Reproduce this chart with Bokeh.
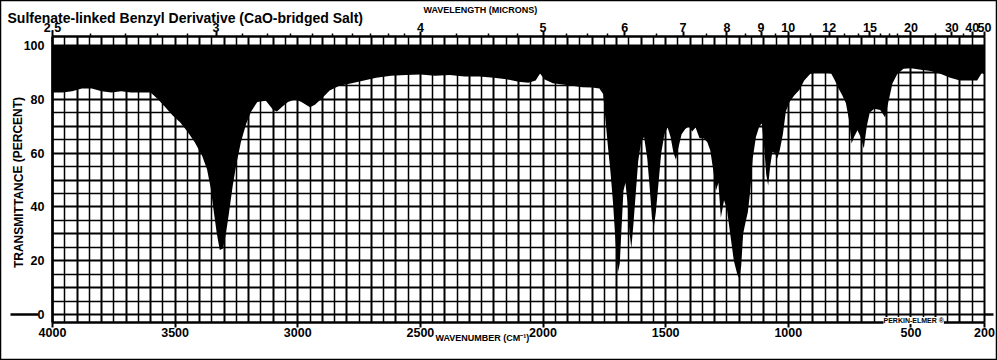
from bokeh.plotting import figure
from bokeh.models import Range1d, FixedTicker, LinearAxis, Label, BoxAnnotation
from bokeh.embed import file_html
from bokeh.resources import INLINE

# ---------------- data ----------------
title_text = "Sulfenate-linked Benzyl Derivative (CaO-bridged Salt)"
x_title = "WAVENUMBER (CM\u207b\u00b9)"
y_title = "TRANSMITTANCE (PERCENT)"
top_title = "WAVELENGTH (MICRONS)"

wavenumber = [
    4000, 3960, 3920, 3880, 3840, 3800, 3760, 3720, 3680, 3640, 3600, 3570, 3540, 3510,
    3480, 3450, 3420, 3390, 3370, 3355, 3342, 3330, 3318, 3305, 3293, 3280, 3265, 3250,
    3232, 3210, 3190, 3165, 3130, 3100, 3085, 3060, 3040, 3010, 2985, 2950, 2930, 2900,
    2870, 2830, 2780, 2730, 2680, 2620, 2560, 2500, 2440, 2380, 2320, 2260, 2200, 2150,
    2100, 2060, 2030, 2012, 1995, 1960, 1920, 1880, 1840, 1800, 1770, 1755, 1745, 1735,
    1725, 1715, 1705, 1695, 1687, 1680, 1672, 1664, 1656, 1648, 1640, 1632, 1622, 1612,
    1600, 1588, 1575, 1565, 1556, 1548, 1540, 1530, 1518, 1505, 1492, 1480, 1468, 1458,
    1448, 1435, 1420, 1405, 1392, 1378, 1362, 1345, 1330, 1318, 1305, 1295, 1285, 1275,
    1262, 1250, 1237, 1222, 1208, 1200, 1192, 1184, 1175, 1165, 1155, 1145, 1132, 1118,
    1108, 1098, 1090, 1082, 1074, 1065, 1055, 1045, 1035, 1022, 1010, 995, 975, 955,
    935, 910, 880, 850, 825, 810, 795, 780, 765, 752, 742, 732, 718, 705,
    692, 680, 668, 650, 625, 605, 592, 575, 555, 530, 500, 460, 420, 380,
    340, 300, 260, 230, 210, 200,
]
transmittance = [
    82.5, 82.5, 83.0, 84.0, 84.0, 83.0, 82.5, 83.0, 82.5, 82.5, 82.5, 80.0, 77.0, 74.0,
    71.5, 68.0, 64.0, 59.0, 54.0, 47.0, 38.0, 30.0, 24.0, 24.5, 30.0, 38.0, 48.0, 56.0,
    64.0, 71.0, 75.5, 79.0, 79.5, 76.0, 75.5, 77.5, 79.0, 80.0, 79.0, 77.0, 78.0, 80.5,
    83.3, 85.0, 86.0, 87.0, 88.0, 88.8, 89.0, 89.2, 88.8, 89.0, 88.5, 88.5, 88.0, 87.5,
    86.5, 86.2, 87.0, 89.6, 87.5, 86.0, 85.5, 85.0, 84.5, 84.4, 84.0, 82.0, 72.0, 62.0,
    53.0, 42.0, 28.0, 15.5, 19.0, 32.0, 46.0, 49.0, 42.0, 31.0, 24.5, 33.0, 45.0, 57.0,
    64.0, 66.0, 58.0, 47.0, 36.0, 32.5, 38.0, 48.0, 60.0, 67.0, 69.5, 66.0, 60.0, 57.5,
    62.0, 67.0, 69.0, 70.0, 68.0, 69.5, 65.5, 65.5, 64.0, 61.0, 53.0, 46.0, 49.0, 36.0,
    42.5, 39.0, 30.0, 20.0, 15.0, 13.4, 18.0, 30.0, 34.0, 38.0, 46.0, 58.0, 66.0, 70.0,
    71.0, 62.0, 52.0, 48.0, 55.0, 60.5, 60.0, 58.0, 61.0, 67.0, 75.5, 79.0, 81.5, 83.5,
    87.0, 89.5, 90.0, 90.0, 89.6, 87.0, 84.0, 81.5, 78.5, 72.0, 63.6, 66.0, 68.5, 66.0,
    61.7, 70.0, 75.0, 76.5, 76.0, 73.2, 79.0, 86.0, 89.5, 91.4, 91.5, 91.0, 90.5, 89.5,
    88.0, 87.0, 87.0, 87.0, 90.0, 89.0,
]

wavenumber_ticks = [4000, 3500, 3000, 2500, 2000, 1500, 1000, 500, 200]
transmittance_ticks = [0, 20, 40, 60, 80, 100]
wavelength_labels = [2.5, 3, 4, 5, 6, 7, 8, 9, 10, 12, 15, 20, 30, 40, 50]
wavelength_minor = [2.6, 2.7, 2.8, 2.9, 3.1, 3.2, 3.3, 3.4, 3.5, 3.6, 3.7, 3.8, 3.9,
                    4.25, 4.5, 4.75, 5.25, 5.5, 5.75, 6.5, 7.5, 8.5, 9.5, 11, 13, 14,
                    16, 17, 18, 25, 35]

# chart-paper extent (data units)
WN_HI, WN_LO = 4000, 200
T_LO, T_HI = -2.97, 103.35

# ---------------- figure ----------------
W, H = 997, 360
p = figure(width=W, height=H, output_backend="svg", toolbar_location=None,
           x_range=Range1d(4212.0, 147.0), y_range=Range1d(-17.10, 116.73),
           min_border=0, min_border_left=0, min_border_right=0,
           min_border_top=0, min_border_bottom=0)
p.background_fill_color = "white"
p.border_fill_color = "white"
p.outline_line_color = "black"
p.outline_line_width = 1.5

# chart-paper grid
p.xgrid.ticker = FixedTicker(ticks=list(range(200, 4001, 100)),
                             minor_ticks=list(range(250, 4000, 100)))
p.ygrid.ticker = FixedTicker(ticks=list(range(0, 101, 10)),
                             minor_ticks=list(range(5, 100, 10)))
p.xgrid.bounds = (WN_LO, WN_HI)
p.xgrid.cross_bounds = (T_LO, T_HI)
p.ygrid.bounds = (0, 100)
p.ygrid.cross_bounds = (WN_LO, WN_HI)
for g in (p.xgrid, p.ygrid):
    g.grid_line_color = "black"
    g.grid_line_width = 2
    g.grid_line_alpha = 1
    g.minor_grid_line_color = "black"
    g.minor_grid_line_width = 1.5

# spectrum: filled from 100 % down to the transmittance trace
p.varea(x=wavenumber, y1=transmittance, y2=100, fill_color="black", fill_alpha=1)

LABEL_FONT = "Liberation Sans"

# bottom axis (wavenumber)
xa = p.xaxis[0]
xa.ticker = FixedTicker(ticks=wavenumber_ticks)
xa.fixed_location = T_LO
xa.bounds = (WN_LO, WN_HI)
# left axis (transmittance)
ya = p.yaxis[0]
ya.ticker = FixedTicker(ticks=transmittance_ticks)
ya.fixed_location = WN_HI
ya.bounds = (T_LO, T_HI)

# top wavelength axis
top_ticks = [round(10000 / w) for w in wavelength_labels]
top_overrides = {round(10000 / w): ("2.5" if w == 2.5 else str(int(w))) for w in wavelength_labels}
ta = LinearAxis(ticker=FixedTicker(ticks=top_ticks,
                                   minor_ticks=[10000 / w for w in wavelength_minor]),
                major_label_overrides=top_overrides,
                fixed_location=T_HI, bounds=(WN_LO, WN_HI))
p.add_layout(ta, "above")

for ax in (xa, ya, ta):
    ax.axis_line_color = "black"
    ax.axis_line_width = 2.5
    ax.major_tick_line_color = "black"
    ax.major_tick_line_width = 2
    ax.major_tick_in = 0
    ax.minor_tick_in = 0
    ax.major_label_text_font = LABEL_FONT
    ax.major_label_text_font_style = "bold"
    ax.major_label_text_font_size = "12.5px"
    ax.major_label_text_color = "black"
xa.major_tick_out = 5
xa.minor_tick_line_color = None
xa.major_label_standoff = 1
ya.major_tick_out = 0
ya.minor_tick_line_color = None
ya.major_label_standoff = 8
ta.major_tick_out = 5
ta.minor_tick_out = 3
ta.minor_tick_line_color = "black"
ta.minor_tick_line_width = 1.5
ta.major_label_standoff = -1

# texts (screen units: origin at bottom-left of the canvas-filling frame)
p.add_layout(Label(x=7, y=343, x_units="screen", y_units="screen", text=title_text,
                   text_font=LABEL_FONT, text_font_style="bold",
                   text_font_size="14px", text_color="black",
                   text_align="left", text_baseline="alphabetic"))
p.add_layout(Label(x=423, y=351, x_units="screen", y_units="screen", text=top_title,
                   text_font=LABEL_FONT, text_font_style="bold", text_font_size="9px",
                   text_color="black", text_align="left", text_baseline="alphabetic"))
p.add_layout(Label(x=435, y=23, x_units="screen", y_units="screen", text=x_title,
                   text_font=LABEL_FONT, text_font_style="bold", text_font_size="9px",
                   text_color="black", text_align="left", text_baseline="alphabetic"))
p.add_layout(Label(x=18, y=178, x_units="screen", y_units="screen", text=y_title,
                   angle=1.5708, text_font=LABEL_FONT, text_font_style="bold",
                   text_font_size="12px", text_color="black",
                   text_align="center", text_baseline="middle"))
p.add_layout(Label(x=883, y=40, x_units="screen", y_units="screen", text="PERKIN-ELMER \u00ae",
                   text_font=LABEL_FONT, text_font_style="bold", text_font_size="7px",
                   text_color="black", text_align="left", text_baseline="alphabetic",
                   background_fill_color="white"))
# extension of the 0 % line beyond the paper
p.add_layout(BoxAnnotation(left=10, right=38, left_units="screen", right_units="screen",
                           bottom=-0.45, top=0.45, fill_color="black", fill_alpha=1,
                           line_color=None))
p.add_layout(BoxAnnotation(left=984, right=993, left_units="screen", right_units="screen",
                           bottom=-0.45, top=0.45, fill_color="black", fill_alpha=1,
                           line_color=None))

open("out.html", "w").write(file_html(p, INLINE))
